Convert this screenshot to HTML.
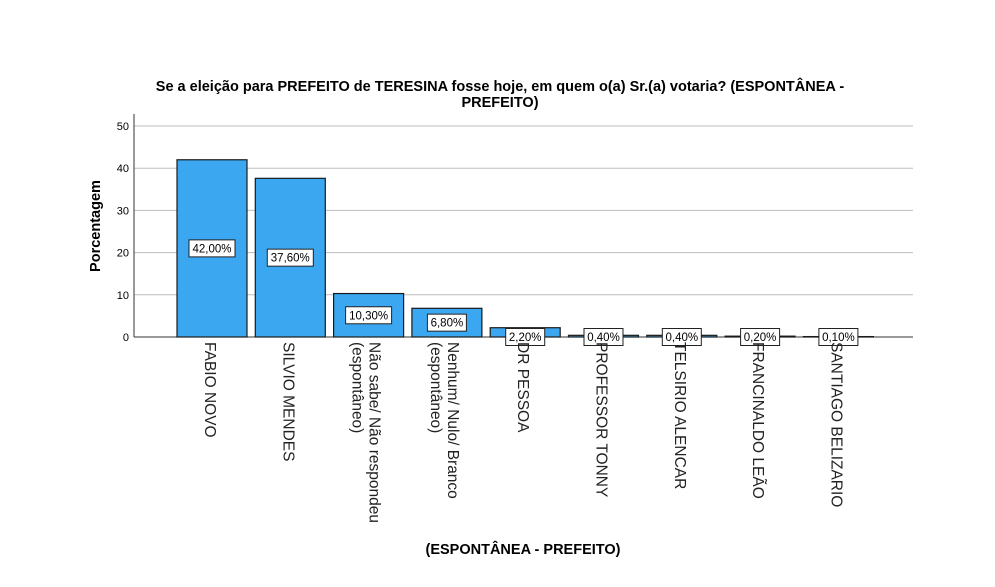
<!DOCTYPE html>
<html><head><meta charset="utf-8"><style>
body{margin:0;background:#fff;}
svg text{font-family:"Liberation Sans",Arial,sans-serif;}
</style></head><body>
<svg width="995" height="582" viewBox="0 0 995 582">
<g id="grid"></g><g id="bars"></g><g id="labels"></g>
<text x="500" y="91" text-anchor="middle" font-size="14.5" font-weight="bold">Se a eleição para PREFEITO de TERESINA fosse hoje, em quem o(a) Sr.(a) votaria? (ESPONTÂNEA  -</text>
<text x="500" y="107" text-anchor="middle" font-size="14.5" font-weight="bold">PREFEITO)</text>
<text transform="translate(100,226) rotate(-90)" text-anchor="middle" font-size="14.5" font-weight="bold">Porcentagem</text>
<text x="523" y="554" text-anchor="middle" font-size="14.5" font-weight="bold">(ESPONTÂNEA  - PREFEITO)</text>
</svg>
<script>
const categories=[["FABIO NOVO"],["SILVIO MENDES"],["Não sabe/ Não respondeu","(espontâneo)"],["Nenhum/ Nulo/ Branco","(espontâneo)"],["DR PESSOA"],["PROFESSOR TONNY"],["TELSIRIO ALENCAR"],["FRANCINALDO LEÃO"],["SANTIAGO BELIZARIO"]];
const values=[42.0,37.6,10.3,6.8,2.2,0.4,0.4,0.2,0.1];
const valueLabels=["42,00%","37,60%","10,30%","6,80%","2,20%","0,40%","0,40%","0,20%","0,10%"];
const yTicks=[0,10,20,30,40,50];
const NS="http://www.w3.org/2000/svg";
const y0=337,yScale=4.22,left=134,right=913;
function y(v){return y0-v*yScale;}
function xc(i){return 212+i*78.3;}
function mk(tag,attrs,parent){const e=document.createElementNS(NS,tag);for(const k in attrs)e.setAttribute(k,attrs[k]);parent.appendChild(e);return e;}
const grid=document.getElementById('grid'),bars=document.getElementById('bars'),labs=document.getElementById('labels');
yTicks.forEach(t=>{
  if(t>0){const l=mk('line',{x1:left,x2:right,y1:y(t),y2:y(t),stroke:'#bdbdbd','stroke-width':1},grid);
  
  }
  const tx=mk('text',{x:left-5,y:y(t)+4,'text-anchor':'end','font-size':11},grid);
  tx.textContent=t;
  
  
});
const ax=mk('line',{x1:left,x2:left,y1:114,y2:y0,stroke:'#333','stroke-width':1},grid);


const xa=mk('line',{x1:left,x2:right,y1:y0,y2:y0,stroke:'#333','stroke-width':1},grid);


values.forEach((v,i)=>{
  const c=xc(i),h=v*yScale;
  const r=mk('rect',{x:c-35,y:y(v),width:70,height:h,fill:'#3ba7f0',stroke:'#1a1a1a','stroke-width':1.2},bars);
  
  
  const ly=v>5?y(v/2):y0;
  const w=valueLabels[i].length*7+4;
  const g=mk('g',{},labs);
  
  
  mk('rect',{x:c-w/2,y:ly-8.5,width:w,height:17,fill:'#fff',stroke:'#222','stroke-width':1},g);
  const t=mk('text',{x:c,y:ly+4,'text-anchor':'middle','font-size':11.5},g);
  t.textContent=valueLabels[i];
  const lines=categories[i];
  lines.forEach((s,j)=>{
    const bx=lines.length>1?(j===0?c+1:c-16):c-7;
    const tt=mk('text',{transform:`translate(${bx},342) rotate(90)`,'font-size':15.5,fill:'#222'},labs);
    tt.textContent=s;
    
    
  });
});
</script>
</body></html>
